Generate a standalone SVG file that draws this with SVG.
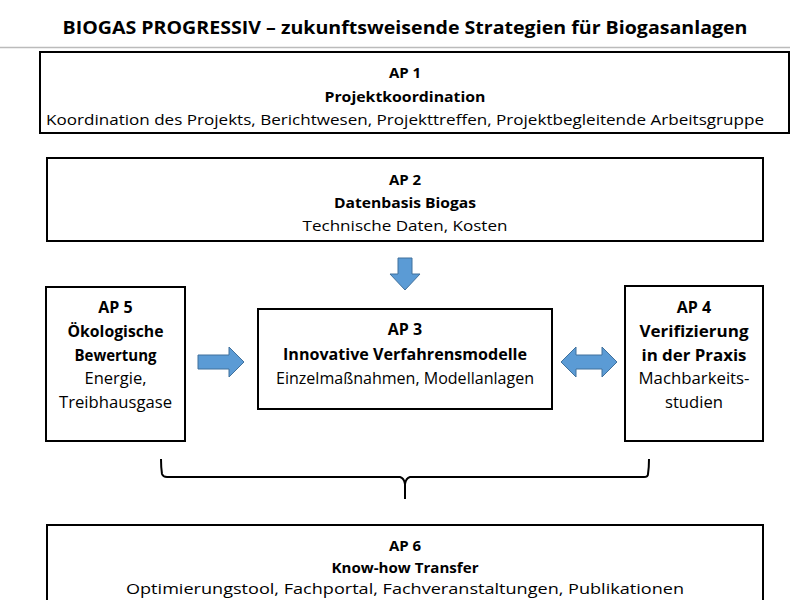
<svg xmlns="http://www.w3.org/2000/svg" width="790" height="600" viewBox="0 0 790 600">
<style>
.box{fill:#fff;stroke:#000;stroke-width:2}
.t{font-family:"Open Sans","Liberation Sans",sans-serif;font-size:15px;fill:#000;text-anchor:middle}
.b{font-weight:bold}
.arr{fill:#5b9bd5;stroke:#41719c;stroke-width:1}
</style>
<rect width="790" height="600" fill="#fff"/>
<text x="405" y="34" class="t b" style="font-size:17px" textLength="685" lengthAdjust="spacingAndGlyphs">BIOGAS PROGRESSIV – zukunftsweisende Strategien für Biogasanlagen</text>
<line x1="0" y1="47.5" x2="790" y2="47.5" stroke="#bbb" stroke-width="1.5"/>
<g id="ap1">
<rect class="box" x="40" y="52" width="749" height="81"/>
<text x="405" y="78" class="t b">AP 1</text>
<text x="405" y="102" class="t b" textLength="161" lengthAdjust="spacingAndGlyphs">Projektkoordination</text>
<text x="405" y="125" class="t" textLength="718" lengthAdjust="spacingAndGlyphs">Koordination des Projekts, Berichtwesen, Projekttreffen, Projektbegleitende Arbeitsgruppe</text>
</g>
<g id="ap2">
<rect class="box" x="47" y="158" width="716" height="83"/>
<text x="405" y="185" class="t b">AP 2</text>
<text x="405" y="208" class="t b" textLength="142" lengthAdjust="spacingAndGlyphs">Datenbasis Biogas</text>
<text x="405" y="231" class="t" textLength="205" lengthAdjust="spacingAndGlyphs">Technische Daten, Kosten</text>
</g>
<g id="ap5">
<rect class="box" x="46" y="287" width="139" height="154"/>
<text x="115.5" y="313" class="t b" style="font-size:16px">AP 5</text>
<text x="115.5" y="337" class="t b" style="font-size:16px" textLength="96" lengthAdjust="spacingAndGlyphs">Ökologische</text>
<text x="115.5" y="361" class="t b" style="font-size:16px" textLength="82" lengthAdjust="spacingAndGlyphs">Bewertung</text>
<text x="115.5" y="384" class="t" style="font-size:16px" textLength="62" lengthAdjust="spacingAndGlyphs">Energie,</text>
<text x="115.5" y="408" class="t" style="font-size:16px" textLength="113" lengthAdjust="spacingAndGlyphs">Treibhausgase</text>
</g>
<g id="ap3">
<rect class="box" x="258" y="309" width="294" height="100"/>
<text x="405" y="335" class="t b" style="font-size:16px">AP 3</text>
<text x="405" y="360" class="t b" style="font-size:16px" textLength="244" lengthAdjust="spacingAndGlyphs">Innovative Verfahrensmodelle</text>
<text x="405" y="384" class="t" style="font-size:16px" textLength="258" lengthAdjust="spacingAndGlyphs">Einzelmaßnahmen, Modellanlagen</text>
</g>
<g id="ap4">
<rect class="box" x="625" y="286" width="138" height="155"/>
<text x="694" y="313" class="t b" style="font-size:16px">AP 4</text>
<text x="694" y="337" class="t b" style="font-size:16px" textLength="109" lengthAdjust="spacingAndGlyphs">Verifizierung</text>
<text x="694" y="361" class="t b" style="font-size:16px" textLength="105" lengthAdjust="spacingAndGlyphs">in der Praxis</text>
<text x="694" y="384" class="t" style="font-size:16px" textLength="111" lengthAdjust="spacingAndGlyphs">Machbarkeits-</text>
<text x="694" y="408" class="t" style="font-size:16px" textLength="58" lengthAdjust="spacingAndGlyphs">studien</text>
</g>
<g id="ap6">
<rect class="box" x="47" y="525" width="716" height="90"/>
<text x="405" y="551" class="t b">AP 6</text>
<text x="405" y="573" class="t b" textLength="147" lengthAdjust="spacingAndGlyphs">Know-how Transfer</text>
<text x="405" y="594" class="t" style="font-size:14px" textLength="558" lengthAdjust="spacingAndGlyphs">Optimierungstool, Fachportal, Fachveranstaltungen, Publikationen</text>
</g>
<g id="connectors">
<path class="arr" d="M398,258 H412 V274 H420 L405,290 L390,274 H398 Z"/>
<path class="arr" d="M198,355 H229 V347 L244,362 L229,377 V369 H198 Z"/>
<path class="arr" d="M561,362 L576,347 V355 H602 V347 L617,362 L602,377 V369 H576 V377 Z"/>
<path d="M161,459 Q161,468 162,474 Q163,477 167,477 H400 Q404,478 405,484 V499 V484 Q406,478 410,477 H644 Q648,477 648,474 Q649,468 649,459" fill="none" stroke="#000" stroke-width="2"/>
</g>
</svg>
